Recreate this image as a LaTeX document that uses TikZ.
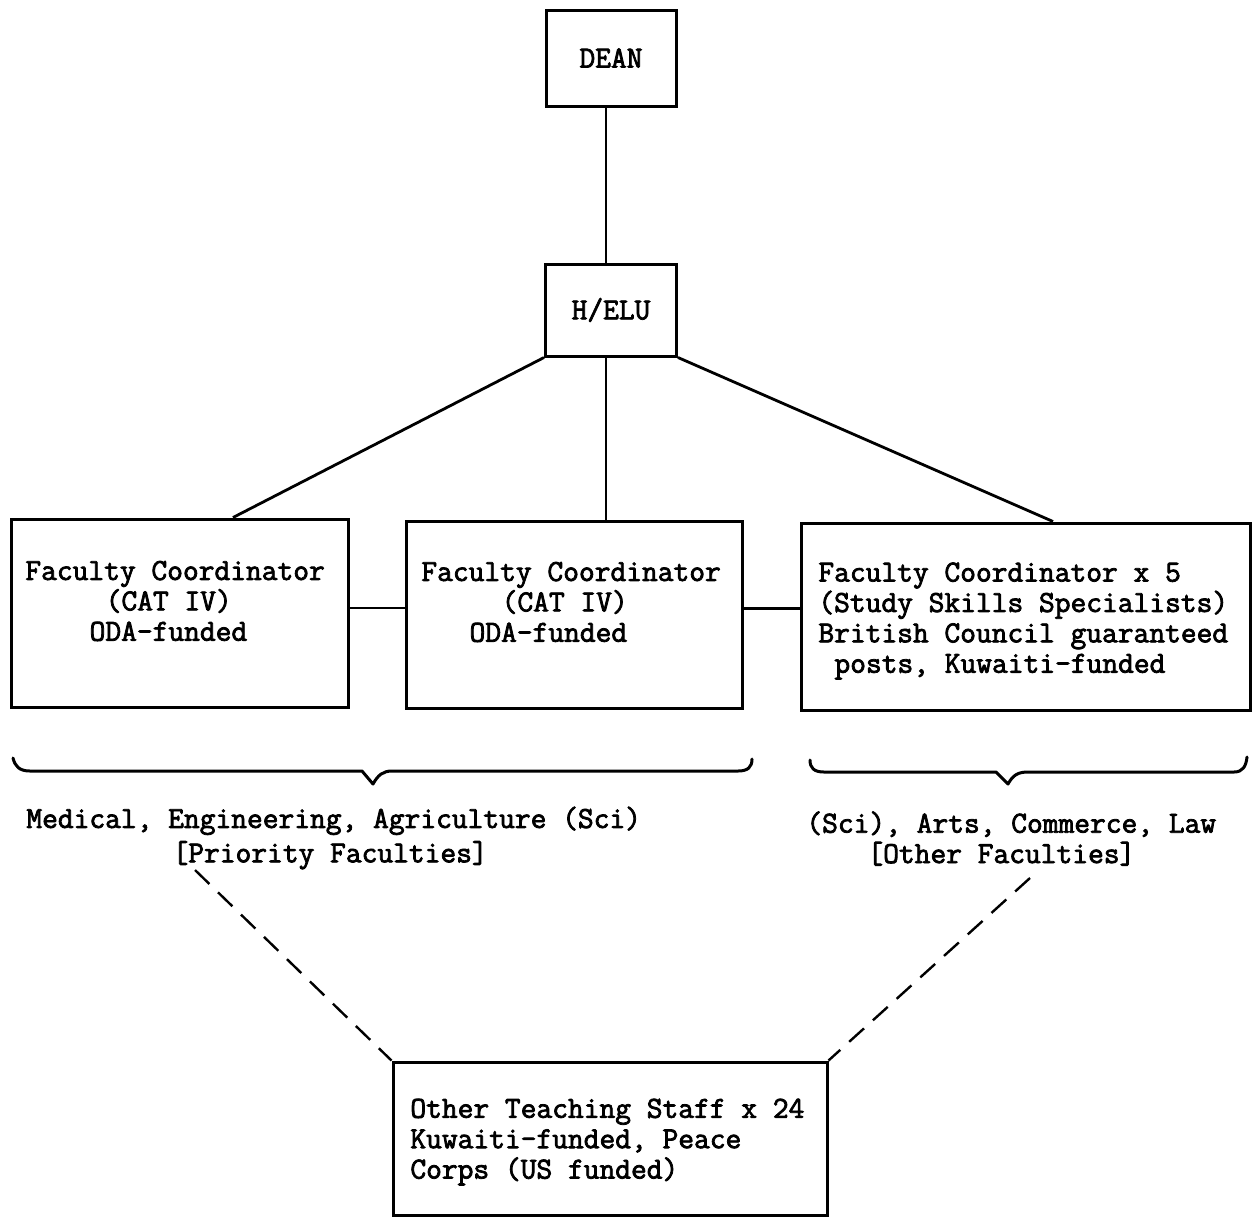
\documentclass[tikz,border=0pt]{standalone}
\usepackage{fontspec}
\setmonofont{Latin Modern Mono}[FakeBold=2.5]
\newlength\chw
\setlength\chw{8.03pt}
\newcommand\ind[1]{\hspace*{#1\chw}}
\begin{document}
\begin{tikzpicture}[x=0.5pt,y=-0.5pt,
  every node/.style={font=\ttfamily\fontsize{15.3pt}{15.2pt}\selectfont},
  box/.style={draw,line width=1.5pt,inner sep=0pt},
  txt/.style={align=left,anchor=west,inner sep=0pt},
  conn/.style={line width=1.4pt},
  dashconn/.style={line width=1.2pt,dash pattern=on 10pt off 6pt},
  brace/.style={line width=1.5pt,line cap=round,line join=round}]
\useasboundingbox (0,0) rectangle (1256,1217);

% boxes
\node[box,minimum width=65pt,minimum height=48pt] (dean) at (611,58) {DEAN};
\node[box,minimum width=65.5pt,minimum height=46pt] (helu) at (611,310) {H/ELU};
\node[box,minimum width=168.5pt,minimum height=94pt] (fc1) at (179.5,613) {};
\node[box,minimum width=168pt,minimum height=93.5pt] (fc2) at (574,614.5) {};
\node[box,minimum width=224.5pt,minimum height=93.5pt] (fc3) at (1025.5,616.5) {};
\node[box,minimum width=217pt,minimum height=76.5pt] (bot) at (610,1138.5) {};

% box texts
\node[txt] (fc1t) at (25,601) {Faculty Coordinator\\\ind{5}(CAT IV)\\\ind{4}ODA-funded};
\node[txt] (fc2t) at (421,602) {Faculty Coordinator\\\ind{5}(CAT IV)\\\ind{3}ODA-funded};
\node[txt] (fc3t) at (818,621) {Faculty Coordinator x 5\\(Study Skills Specialists)\\British Council guaranteed\\\ind{1}posts, Kuwaiti-funded};
\node[txt] (bott) at (410,1142) {Other Teaching Staff x 24\\Kuwaiti-funded, Peace\\Corps (US funded)};

% faculty groups
\node[txt] (prio) at (26,838) {Medical, Engineering, Agriculture (Sci)\\[2pt]\ind{9.1}[Priority Faculties]};
\node[txt] (other) at (806,838.5) {(Sci), Arts, Commerce, Law\\\ind{3.8}[Other Faculties]};

% reporting lines
\draw[conn] ([xshift=-2.5pt]dean.south) -- ([xshift=-2.5pt]helu.north);
\draw[conn] (helu.south west) -- ([xshift=26.75pt]fc1.north);
\draw[conn] ([xshift=-2.5pt]helu.south) -- ([xshift=-2.5pt]helu.south |- fc2.north);
\draw[conn] (helu.south east) -- ([xshift=13.75pt]fc3.north);
\draw[conn] ([yshift=2.5pt]fc1.east) -- ([yshift=2.5pt]fc1.east -| fc2.west);
\draw[conn] ([yshift=3pt]fc2.east) -- ([yshift=3pt]fc2.east -| fc3.west);

% braces
\draw[brace] (13,758) .. controls (15,766) and (19,771) .. (30,771) -- (362,771)
  -- (373,784) .. controls (378,775) and (383,771) .. (392,771) -- (738,771)
  .. controls (748,771) and (752,767) .. (752,759);
\draw[brace] (810,760) .. controls (810,768) and (814,772) .. (824,772) -- (996,772)
  -- (1008,784) .. controls (1013,775) and (1018,772) .. (1028,772) -- (1234,772)
  .. controls (1243,772) and (1246,766) .. (1247,757);

% dashed links
\coordinate (d1) at (195,870);
\coordinate (d2) at (1030,878);
\draw[dashconn] (d1) -- (bot.north west);
\draw[dashconn] (d2) -- (bot.north east);
\end{tikzpicture}
\end{document}
